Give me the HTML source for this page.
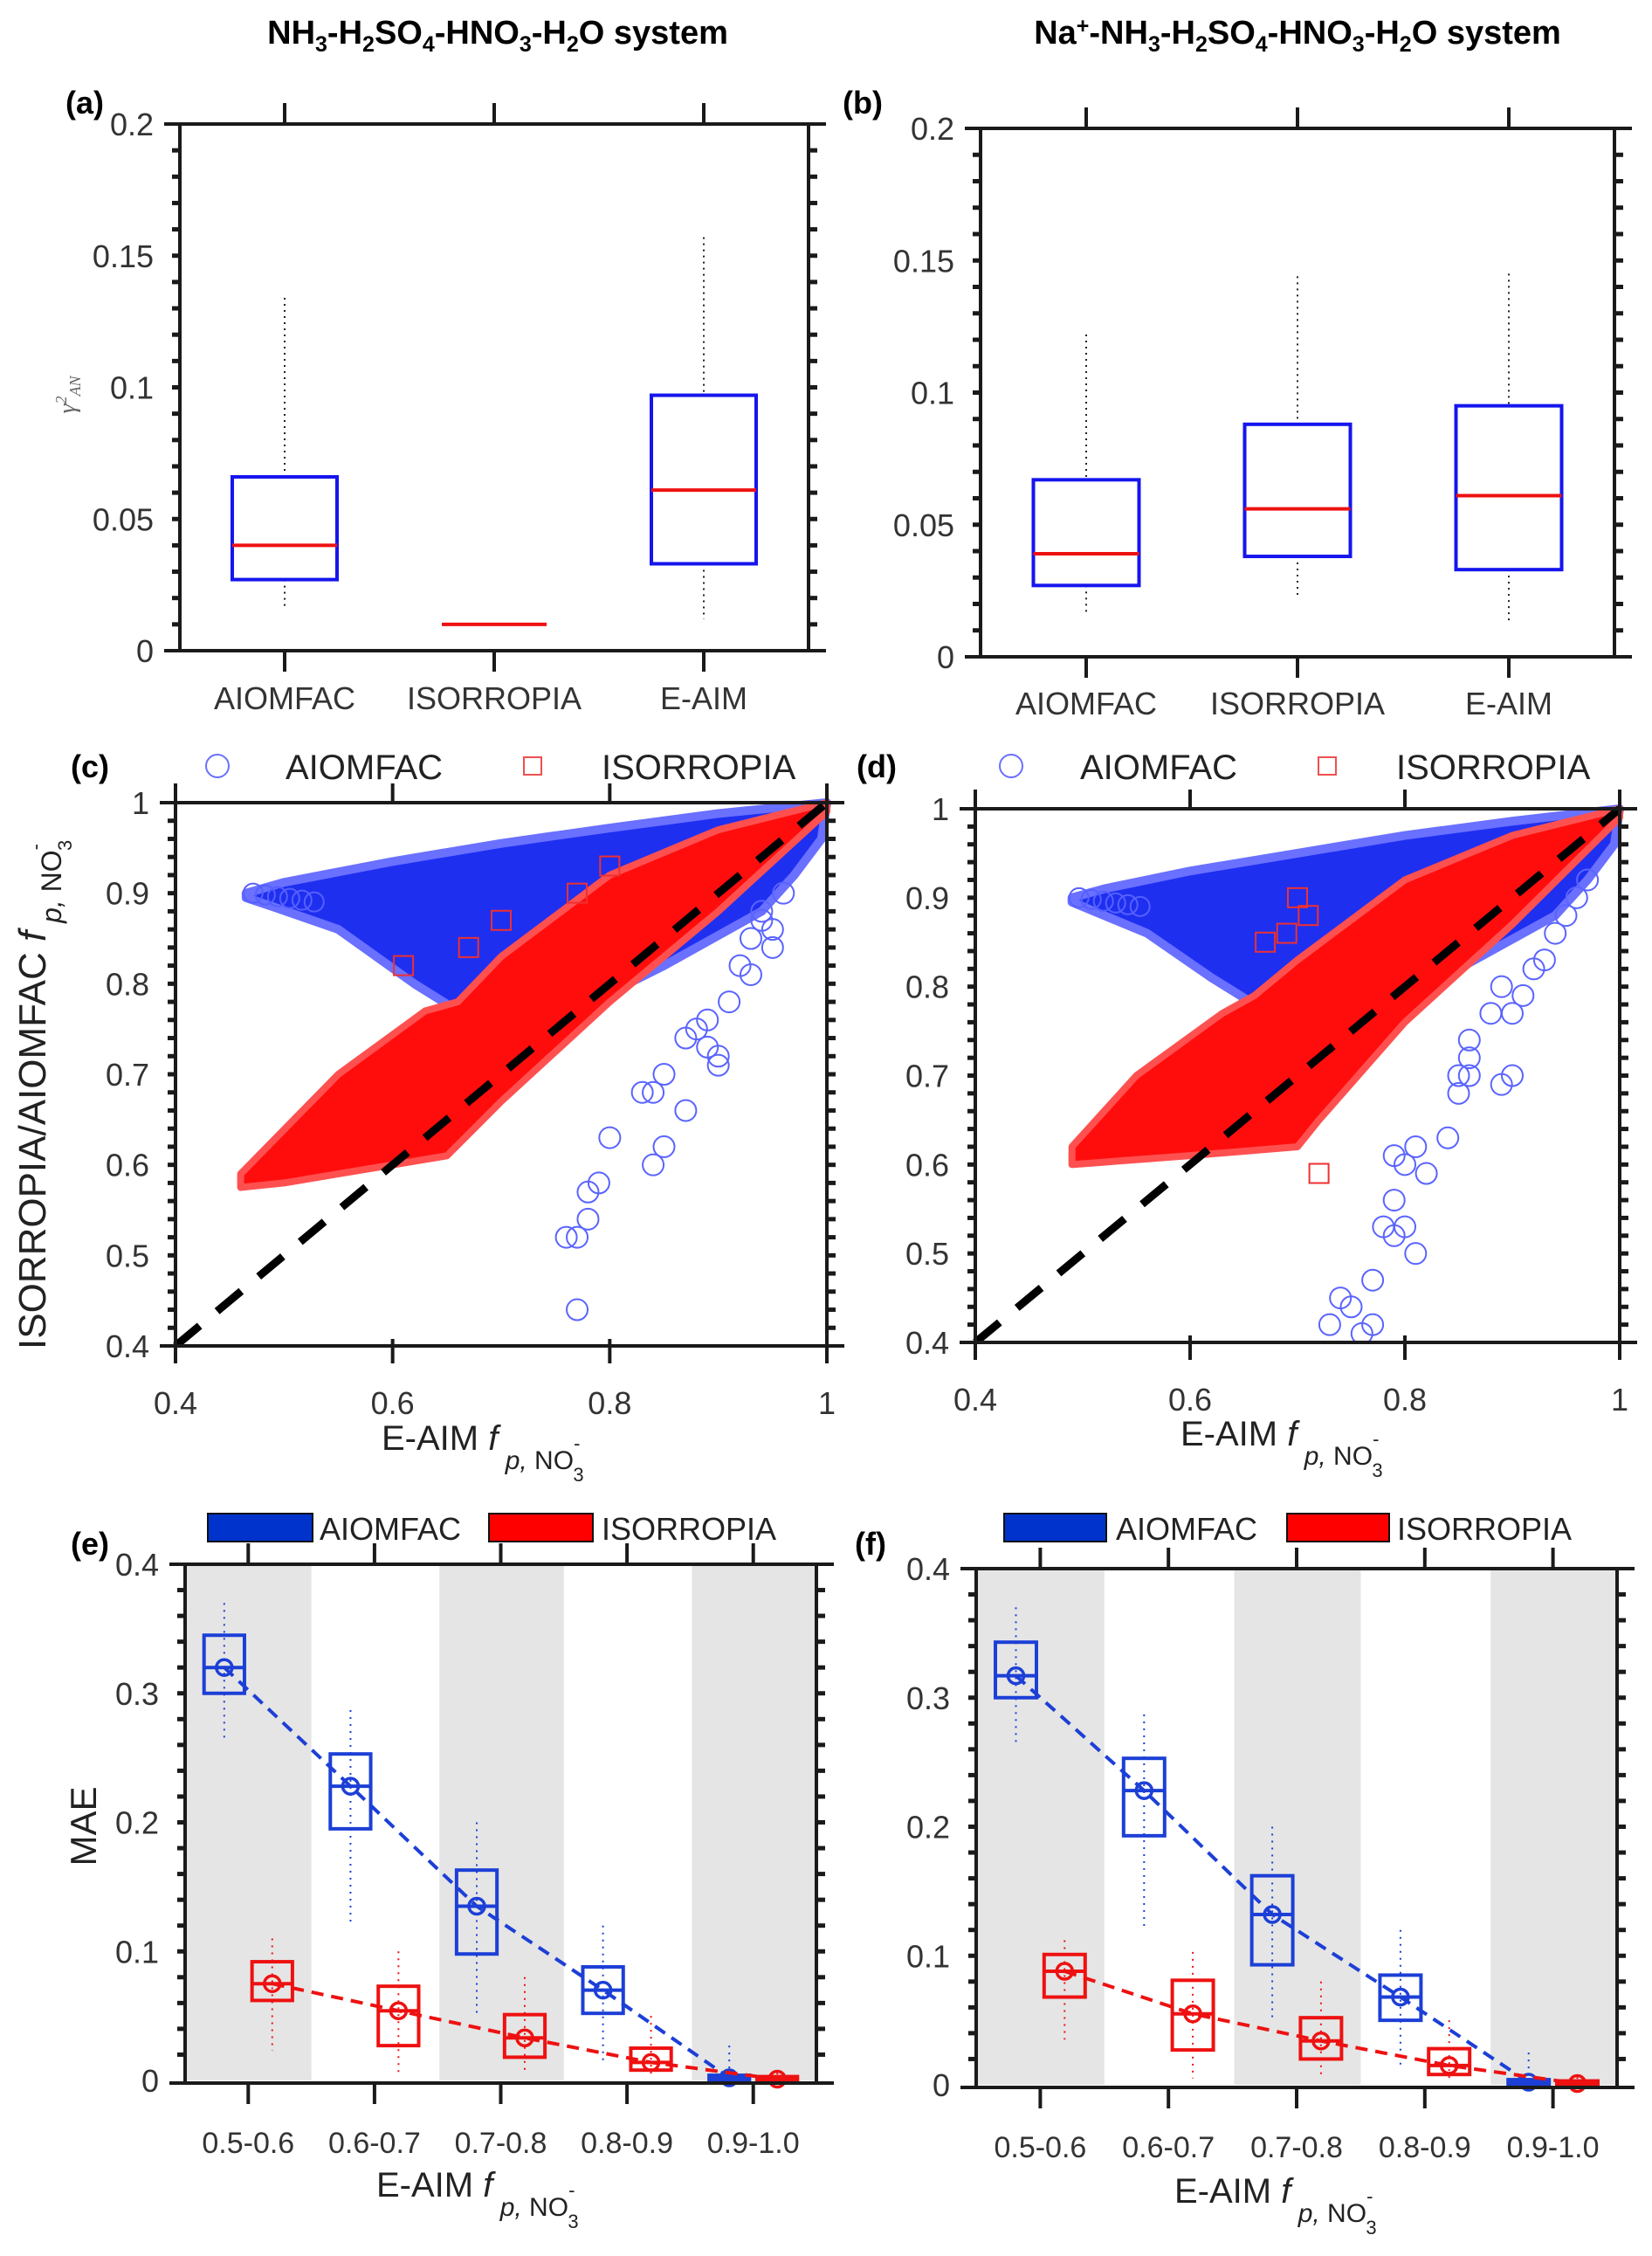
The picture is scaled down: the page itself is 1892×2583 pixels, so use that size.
<!DOCTYPE html>
<html><head><meta charset="utf-8">
<style>
html,body{margin:0;padding:0;background:#fff;}
svg{display:block;font-family:"Liberation Sans",sans-serif;}
</style></head>
<body>
<svg id="fig" width="1892" height="2583" viewBox="0 0 1892 2583" xmlns="http://www.w3.org/2000/svg">
<text x="570" y="50" font-size="38" font-weight="bold" text-anchor="middle">NH<tspan font-size="25" dy="9">3</tspan><tspan dy="-9">-H</tspan><tspan font-size="25" dy="9">2</tspan><tspan dy="-9">SO</tspan><tspan font-size="25" dy="9">4</tspan><tspan dy="-9">-HNO</tspan><tspan font-size="25" dy="9">3</tspan><tspan dy="-9">-H</tspan><tspan font-size="25" dy="9">2</tspan><tspan dy="-9">O system</tspan></text>
<text x="1486" y="50" font-size="38" font-weight="bold" text-anchor="middle">Na<tspan font-size="25" dy="-12">+</tspan><tspan dy="12">-NH</tspan><tspan font-size="25" dy="9">3</tspan><tspan dy="-9">-H</tspan><tspan font-size="25" dy="9">2</tspan><tspan dy="-9">SO</tspan><tspan font-size="25" dy="9">4</tspan><tspan dy="-9">-HNO</tspan><tspan font-size="25" dy="9">3</tspan><tspan dy="-9">-H</tspan><tspan font-size="25" dy="9">2</tspan><tspan dy="-9">O system</tspan></text>
<g id="root"></g>
</svg>
<script>
// ---------- data: panels a/b (box plots) ----------
const boxCats = ["AIOMFAC","ISORROPIA","E-AIM"];
const aMed = [0.040, 0.010, 0.061];
const aQ1 = [0.027, 0.010, 0.033];
const aQ3 = [0.066, 0.010, 0.097];
const aLo = [0.017, 0.010, 0.012];
const aHi = [0.134, 0.010, 0.157];
const bMed = [0.039, 0.056, 0.061];
const bQ1 = [0.027, 0.038, 0.033];
const bQ3 = [0.067, 0.088, 0.095];
const bLo = [0.017, 0.022, 0.013];
const bHi = [0.122, 0.144, 0.145];
const abTicks = [0, 0.05, 0.1, 0.15, 0.2];
const abTickLabels = ["0","0.05","0.1","0.15","0.2"];

// ---------- data: panels c/d (scatter envelopes + outliers) ----------
const cdTicks = [0.4,0.5,0.6,0.7,0.8,0.9,1];
const cdTickLabels = ["0.4","0.5","0.6","0.7","0.8","0.9","1"];
const cdXTicks = [0.4,0.6,0.8,1];
const cdXTickLabels = ["0.4","0.6","0.8","1"];
const cBlueX = [0.465,0.50,0.60,0.70,0.80,0.90,1.00,0.995,0.97,0.94,0.85,0.75,0.66,0.62,0.55,0.49,0.465];
const cBlueY = [0.900,0.912,0.935,0.955,0.972,0.988,1.000,0.960,0.920,0.880,0.820,0.760,0.770,0.800,0.860,0.885,0.895];
const cRedX = [0.460,0.50,0.60,0.65,0.70,0.80,0.90,1.00,1.00,0.90,0.80,0.70,0.66,0.63,0.55,0.46];
const cRedY = [0.575,0.580,0.600,0.610,0.670,0.780,0.880,0.990,1.000,0.970,0.920,0.830,0.780,0.770,0.700,0.590];
const cOutX = [0.77,0.76,0.77,0.78,0.78,0.79,0.80,0.84,0.85,0.83,0.84,0.85,0.87,0.87,0.88,0.89,0.90,0.90,0.89,0.91,0.92,0.93,0.93,0.94,0.95,0.94,0.96,0.95];
const cOutY = [0.44,0.52,0.52,0.54,0.57,0.58,0.63,0.60,0.62,0.68,0.68,0.70,0.66,0.74,0.75,0.76,0.71,0.72,0.73,0.78,0.82,0.81,0.85,0.87,0.86,0.88,0.90,0.84];
const cRedOutX = [0.61,0.67,0.70,0.77,0.80];
const cRedOutY = [0.82,0.84,0.87,0.90,0.93];
const dBlueX = [0.49,0.52,0.60,0.70,0.80,0.90,1.00,0.995,0.97,0.94,0.85,0.75,0.66,0.62,0.56,0.51,0.49];
const dBlueY = [0.900,0.910,0.930,0.950,0.970,0.986,1.000,0.960,0.920,0.880,0.820,0.770,0.780,0.810,0.860,0.885,0.895];
const dRedX = [0.49,0.60,0.70,0.72,0.80,0.90,1.00,1.00,0.90,0.80,0.70,0.66,0.63,0.55,0.49];
const dRedY = [0.600,0.610,0.620,0.650,0.760,0.870,0.990,1.000,0.970,0.920,0.830,0.790,0.770,0.700,0.620];
const dOutX = [0.73,0.74,0.75,0.76,0.77,0.77,0.78,0.79,0.79,0.80,0.80,0.81,0.81,0.82,0.79,0.84,0.85,0.86,0.85,0.86,0.86,0.88,0.89,0.90,0.89,0.90,0.91,0.92,0.93,0.94,0.95,0.96,0.97];
const dOutY = [0.42,0.45,0.44,0.41,0.42,0.47,0.53,0.56,0.52,0.53,0.60,0.50,0.62,0.59,0.61,0.63,0.68,0.70,0.70,0.72,0.74,0.77,0.69,0.70,0.80,0.77,0.79,0.82,0.83,0.86,0.88,0.90,0.92];
const dRedOutX = [0.72,0.67,0.69,0.70,0.71];
const dRedOutY = [0.59,0.85,0.86,0.90,0.88];

// ---------- data: panels e/f (MAE box plots) ----------
const efCats = ["0.5-0.6","0.6-0.7","0.7-0.8","0.8-0.9","0.9-1.0"];
const efTicks = [0,0.1,0.2,0.3,0.4];
const efTickLabels = ["0","0.1","0.2","0.3","0.4"];
const eBlueMed = [0.320,0.228,0.135,0.070,0.002];
const eBlueQ1 = [0.300,0.195,0.098,0.052,0.000];
const eBlueQ3 = [0.345,0.253,0.163,0.088,0.004];
const eBlueLo = [0.265,0.122,0.050,0.015,0.000];
const eBlueHi = [0.370,0.287,0.200,0.120,0.027];
const eRedMed = [0.075,0.054,0.033,0.014,0.001];
const eRedQ1 = [0.062,0.027,0.018,0.008,0.000];
const eRedQ3 = [0.092,0.073,0.051,0.025,0.003];
const eRedLo = [0.023,0.005,0.005,0.003,0.000];
const eRedHi = [0.110,0.100,0.080,0.050,0.006];
const fBlueMed = [0.317,0.228,0.132,0.068,0.002];
const fBlueQ1 = [0.300,0.193,0.093,0.050,0.000];
const fBlueQ3 = [0.343,0.253,0.162,0.085,0.004];
const fBlueLo = [0.265,0.120,0.050,0.012,0.000];
const fBlueHi = [0.370,0.287,0.200,0.120,0.025];
const fRedMed = [0.088,0.055,0.034,0.015,0.001];
const fRedQ1 = [0.068,0.027,0.020,0.008,0.000];
const fRedQ3 = [0.101,0.081,0.052,0.028,0.003];
const fRedLo = [0.035,0.005,0.005,0.003,0.000];
const fRedHi = [0.112,0.103,0.080,0.050,0.006];

const NS = "http://www.w3.org/2000/svg";
const root = document.getElementById("root");
const TICKFS = 36;
function mk(tag, attrs, parent) {
  const el = document.createElementNS(NS, tag);
  for (const k in attrs) el.setAttribute(k, attrs[k]);
  (parent || root).appendChild(el);
  return el;
}
function lin(d0, d1, r0, r1) { return v => r0 + (v - d0) / (d1 - d0) * (r1 - r0); }

function frame(g, L, T, R, B, yMinorStep, yMin, yMax, ys) {
  let e;
  e = mk("line", {x1:L-18,y1:T,x2:R+20,y2:T,stroke:"#1a1a1a","stroke-width":4}, g);
  
  
  e = mk("line", {x1:L-18,y1:B,x2:R+20,y2:B,stroke:"#1a1a1a","stroke-width":4}, g);
  
  
  e = mk("line", {x1:L,y1:T,x2:L,y2:B,stroke:"#1a1a1a","stroke-width":4}, g);
  
  
  e = mk("line", {x1:R,y1:T,x2:R,y2:B,stroke:"#1a1a1a","stroke-width":4}, g);
  
  
  const n = Math.round((yMax - yMin) / yMinorStep);
  for (let i = 1; i < n; i++) {
    const y = ys(yMin + i * yMinorStep);
    e = mk("line", {x1:L-9,y1:y,x2:L,y2:y,stroke:"#1a1a1a","stroke-width":5}, g);
    
    
    e = mk("line", {x1:R,y1:y,x2:R+10,y2:y,stroke:"#1a1a1a","stroke-width":5}, g);
    
    
  }
}
function yLabels(g, L, ticks, labels, ys) {
  ticks.forEach((t, i) => {
    const e = mk("text", {x:L-30,y:ys(t)+13,"font-size":TICKFS,"text-anchor":"end",fill:"#333"}, g);
    e.textContent = labels[i];
    
    
  });
}
function txt(s, x, y, size, attrs) {
  const e = mk("text", Object.assign({x:x,y:y,"font-size":size}, attrs || {}));
  e.textContent = s;
  return e;
}

// ---------- panels a / b ----------
function boxPanel(name, L, T, R, B, med, q1, q3, lo, hi, labY) {
  const g = mk("g", {});
  
  
  const xs = lin(0.5, 3.5, L, R), ys = lin(0, 0.2, B, T);
  frame(g, L, T, R, B, 0.01, 0, 0.2, ys);
  yLabels(g, L, abTicks, abTickLabels, ys);
  boxCats.forEach((c, i) => {
    const x = xs(i + 1);
    let e = mk("line", {x1:x,y1:T-24,x2:x,y2:T,stroke:"#1a1a1a","stroke-width":4}, g);
    
    
    e = mk("line", {x1:x,y1:B,x2:x,y2:B+24,stroke:"#1a1a1a","stroke-width":4}, g);
    
    
    e = txt(c, x, labY, TICKFS, {"text-anchor":"middle",fill:"#333"});
    
    
    const hw = xs(1.25) - xs(1);
    e = mk("line", {x1:x,y1:ys(hi[i]),x2:x,y2:ys(q3[i]),stroke:"#222","stroke-width":2,"stroke-dasharray":"2 5"}, g);
    
    
    e = mk("line", {x1:x,y1:ys(q1[i]),x2:x,y2:ys(lo[i]),stroke:"#222","stroke-width":2,"stroke-dasharray":"2 5"}, g);
    
    
    if (q3[i] > q1[i]) {
      e = mk("rect", {x:x-hw,y:ys(q3[i]),width:2*hw,height:ys(q1[i])-ys(q3[i]),fill:"none",stroke:"#1515ee","stroke-width":4}, g);
      
      
    }
    e = mk("line", {x1:x-hw,y1:ys(med[i]),x2:x+hw,y2:ys(med[i]),stroke:"#ee1111","stroke-width":4}, g);
    
    
  });
}
boxPanel("panel-a", 206, 142, 926, 745, aMed, aQ1, aQ3, aLo, aHi, 812);
boxPanel("panel-b", 1123, 147, 1849, 752, bMed, bQ1, bQ3, bLo, bHi, 818);

let t;
t = txt("(a)", 97, 130, 36, {"font-weight":"bold","text-anchor":"middle"});


t = txt("(b)", 988, 130, 36, {"font-weight":"bold","text-anchor":"middle"});


t = mk("text", {x:0,y:0,"font-size":28,fill:"#666","font-family":"Liberation Serif, serif","font-style":"italic",transform:"translate(86,452) rotate(-90)","text-anchor":"middle"});
t.innerHTML = 'γ<tspan font-size="18" dy="-10">2</tspan><tspan font-size="18" dy="16">AN</tspan>';



// ---------- panels c / d ----------
function scatterPanel(name, L, T, R, B, bx, by, rx, ry, ox, oy, rox, roy) {
  const g = mk("g", {});
  
  
  const xs = lin(0.4, 1, L, R), ys = lin(0.4, 1, B, T);
  const defs = mk("clipPath", {id:name+"-clip"}, g);
  mk("rect", {x:L-20,y:T-20,width:R-L+40,height:B-T+20}, defs);
  const pg = mk("g", {"clip-path":"url(#"+name+"-clip)"}, g);
  let e;
  e = mk("polygon", {points: bx.map((v,i)=>xs(v)+","+ys(by[i])).join(" "), fill:"#1f2ff0", stroke:"#6a70ff","stroke-width":10,"stroke-linejoin":"round"}, pg);
  
  
  for (let k = 0; k < 6; k++) {
    e = mk("circle", {cx:xs(bx[0])+8+k*14, cy:ys(by[0])+2*k, r:11, fill:"none", stroke:"#5560ff","stroke-width":2}, pg);
    
    
  }
  e = mk("polygon", {points: rx.map((v,i)=>xs(v)+","+ys(ry[i])).join(" "), fill:"#ff0d0d", stroke:"#ff5050","stroke-width":8,"stroke-linejoin":"round"}, pg);
  
  
  ox.forEach((v,i) => {
    e = mk("circle", {cx:xs(v), cy:ys(oy[i]), r:12, fill:"none", stroke:"#5a64ff","stroke-width":2}, pg);
    
    
  });
  rox.forEach((v,i) => {
    e = mk("rect", {x:xs(v)-11, y:ys(roy[i])-11, width:22, height:22, fill:"none", stroke:"#ee3030","stroke-width":2}, pg);
    
    
  });
  e = mk("line", {x1:xs(0.4),y1:ys(0.4),x2:xs(1),y2:ys(1),stroke:"#000","stroke-width":9,"stroke-dasharray":"36 26"}, pg);
  
  
  frame(g, L, T, R, B, 0.02, 0.4, 1, ys);
  yLabels(g, L, cdTicks, cdTickLabels, ys);
  cdXTicks.forEach((v,i) => {
    const x = xs(v);
    e = mk("line", {x1:x,y1:B-8,x2:x,y2:B+20,stroke:"#1a1a1a","stroke-width":4}, g);
    
    
    e = mk("line", {x1:x,y1:T-22,x2:x,y2:T,stroke:"#1a1a1a","stroke-width":4}, g);
    
    
    e = txt(cdXTickLabels[i], x, B+78, TICKFS, {"text-anchor":"middle",fill:"#333"});
    
    
  });
}
scatterPanel("panel-c", 201, 919, 947, 1541, cBlueX, cBlueY, cRedX, cRedY, cOutX, cOutY, cRedOutX, cRedOutY);
scatterPanel("panel-d", 1117, 926, 1855, 1537, dBlueX, dBlueY, dRedX, dRedY, dOutX, dOutY, dRedOutX, dRedOutY);

function legendCD(tag, xl, xc, xt, xs2, xt2) {
  let e = txt(tag, xl, 890, 36, {"font-weight":"bold","text-anchor":"middle"});
  
  
  e = mk("circle", {cx:xc, cy:877, r:13, fill:"none", stroke:"#6a70ff","stroke-width":2});
  
  
  e = txt("AIOMFAC", xt, 892, 40, {fill:"#222"});
  
  
  e = mk("rect", {x:xs2-10, y:867, width:20, height:20, fill:"none", stroke:"#ee5050","stroke-width":2});
  
  
  e = txt("ISORROPIA", xt2, 892, 40, {fill:"#222"});
  
  
}
legendCD("(c)", 103, 249, 327, 610, 689);
legendCD("(d)", 1004, 1158, 1237, 1520, 1599);

function xTitle(x, y, name) {
  const e = mk("text", {x:x, y:y, "font-size":40, fill:"#222"});
  e.innerHTML = 'E-AIM  <tspan font-style="italic">f</tspan><tspan font-size="30" dy="22" font-style="italic"> p,</tspan><tspan font-size="30"> NO</tspan><tspan font-size="22" dy="-22">-</tspan><tspan font-size="22" dx="-8" dy="36">3</tspan>';
  
  
}
xTitle(437, 1660, "x-axis-title-c");
xTitle(1352, 1655, "x-axis-title-d");
t = mk("text", {x:0, y:0, "font-size":44, fill:"#222", transform:"translate(52,1545) rotate(-90)"});
t.innerHTML = 'ISORROPIA/AIOMFAC  <tspan font-style="italic">f</tspan><tspan font-size="32" dy="18" font-style="italic"> p,</tspan><tspan font-size="32"> NO</tspan><tspan font-size="22" dy="-22">-</tspan><tspan font-size="22" dx="-8" dy="34">3</tspan>';



// ---------- panels e / f ----------
function maePanel(name, L, T, R, B, bm, bq1, bq3, blo, bhi, rm, rq1, rq3, rlo, rhi) {
  const g = mk("g", {});
  
  
  const xs = lin(0.5, 5.5, L, R), ys = lin(0, 0.4, B-3, T);
  let e;
  efCats.forEach((c,i) => {
    if (i % 2 === 0) {
      e = mk("rect", {x:xs(i+0.5)+2, y:T, width:xs(i+1.5)-xs(i+0.5)-2, height:ys(0)-T, fill:"#e5e5e5"}, g);
      
      
    }
  });
  const hw = (xs(2)-xs(1))*0.16, off = (xs(2)-xs(1))*0.19;
  function series(med,q1,q3,lo,hi,col,dir,sname) {
    const pts = med.map((v,i)=>(xs(i+1)+dir*off)+","+ys(v)).join(" ");
    let e = mk("polyline", {points:pts, fill:"none", stroke:col, "stroke-width":4, "stroke-dasharray":"14 9"}, g);
    
    
    med.forEach((v,i) => {
      const x = xs(i+1)+dir*off;
      e = mk("line", {x1:x,y1:ys(hi[i]),x2:x,y2:ys(lo[i]),stroke:col,"stroke-width":2,"stroke-dasharray":"2 6"}, g);
      
      
      e = mk("rect", {x:x-hw,y:ys(q3[i]),width:2*hw,height:Math.max(2,ys(q1[i])-ys(q3[i])),fill:"none",stroke:col,"stroke-width":4}, g);
      
      
      e = mk("line", {x1:x-hw,y1:ys(v),x2:x+hw,y2:ys(v),stroke:col,"stroke-width":4}, g);
      
      
      e = mk("circle", {cx:x,cy:ys(v),r:9,fill:"none",stroke:col,"stroke-width":3.5}, g);
      
      
    });
  }
  series(bm,bq1,bq3,blo,bhi,"#1c3fd6",-1,"aiomfac");
  series(rm,rq1,rq3,rlo,rhi,"#ee1111",1,"isorropia");
  frame(g, L, T, R, B, 0.02, 0, 0.4, ys);
  yLabels(g, L, efTicks, efTickLabels, ys);
  efCats.forEach((c,i) => {
    const x = xs(i+1);
    e = mk("line", {x1:x,y1:T-24,x2:x,y2:T,stroke:"#1a1a1a","stroke-width":4}, g);
    
    
    e = mk("line", {x1:x,y1:B,x2:x,y2:B+24,stroke:"#1a1a1a","stroke-width":4}, g);
    
    
    e = txt(c, x, B+80, 34, {"text-anchor":"middle",fill:"#333"});
    
    
  });
}
maePanel("panel-e", 212, 1791, 935, 2385, eBlueMed, eBlueQ1, eBlueQ3, eBlueLo, eBlueHi, eRedMed, eRedQ1, eRedQ3, eRedLo, eRedHi);
maePanel("panel-f", 1118, 1796, 1852, 2390, fBlueMed, fBlueQ1, fBlueQ3, fBlueLo, fBlueHi, fRedMed, fRedQ1, fRedQ3, fRedLo, fRedHi);

function legendEF(tag, xl, bx1, bx2, tx1, rx1, rx2, tx2) {
  let e = txt(tag, xl, 1780, 36, {"font-weight":"bold","text-anchor":"middle"});
  
  
  e = mk("rect", {x:bx1,y:1733,width:bx2-bx1,height:32,fill:"#0033cc",stroke:"#111","stroke-width":2});
  
  
  e = txt("AIOMFAC", tx1, 1763, 36, {fill:"#222"});
  
  
  e = mk("rect", {x:rx1,y:1733,width:rx2-rx1,height:32,fill:"#ff0000",stroke:"#111","stroke-width":2});
  
  
  e = txt("ISORROPIA", tx2, 1763, 36, {fill:"#222"});
  
  
}
legendEF("(e)", 103, 238, 358, 366, 560, 679, 689);
legendEF("(f)", 997, 1150, 1267, 1278, 1474, 1591, 1600);
xTitle(431, 2515, "x-axis-title-e");
xTitle(1345, 2522, "x-axis-title-f");
t = txt("MAE", 0, 0, 42, {fill:"#222","text-anchor":"middle",transform:"translate(110,2091) rotate(-90)"});


</script>
</body></html>
